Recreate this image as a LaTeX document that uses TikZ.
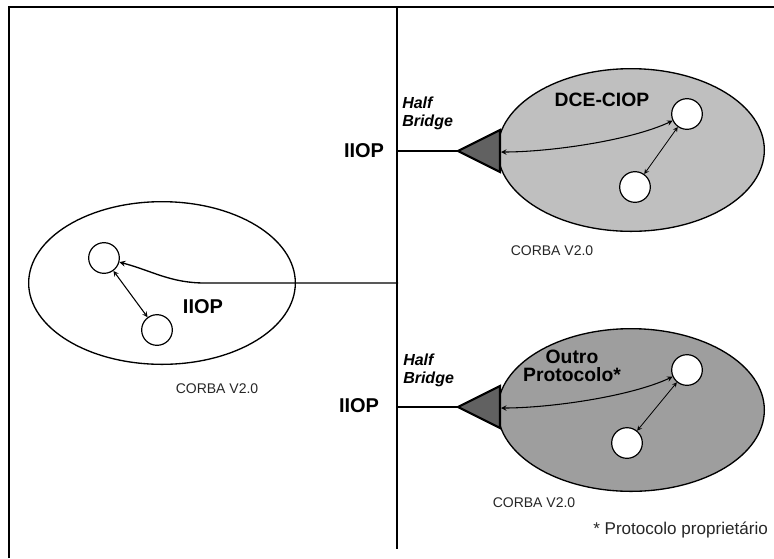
\documentclass[tikz,border=0pt]{standalone}
\usepackage{fontspec}
\setmainfont{Liberation Sans}
\usetikzlibrary{shapes.geometric}

\begin{document}
\begin{tikzpicture}[x=0.75pt, y=-0.75pt,
		obj/.style={draw, circle, fill=white, line width=0.9pt, minimum size=23pt, inner sep=0pt},
		orbdomain/.style={draw, ellipse, line width=1pt, minimum width=200pt, minimum height=122pt, inner sep=0pt},
		proto/.style={font=\fontsize{15}{15}\selectfont\bfseries, inner sep=0pt},
		bridge/.style={font=\fontsize{12}{13.5}\selectfont\bfseries\itshape, align=left, anchor=north west, inner sep=0pt},
		orb/.style={font=\fontsize{10.5}{12}\selectfont, text=black!85, inner sep=0pt},
		link/.style={<->, >=stealth, line width=0.8pt},
		half/.style={draw, fill=black!62, line width=1.6pt, line join=miter}]
				\useasboundingbox (0,0) rectangle (774,558);
				\draw[line width=1.6pt] (9,558) -- (9,7) -- (774,7);
				\coordinate (Top)at(397, 7);
				\coordinate (Bot)at(397, 549);
				\draw[line width=2pt] (Top) -- (Bot);
				\node[orbdomain, fill=black!25] (DCE)at(631, 150) {};
				\node[orbdomain, fill=black!38] (OUT)at(631, 410) {};
				\node[orbdomain, fill=white] (LOC)at(162, 283) {};
				\node[obj] (A1)at(687, 114) {};
				\node[obj] (A2)at(635, 187) {};
				\node[obj] (B1)at(687, 370) {};
				\node[obj] (B2)at(627, 443) {};
				\node[obj] (C1)at(104, 258) {};
				\node[obj] (C2)at(157, 330) {};
				\coordinate (HA)at(397, 151);
				\coordinate (TA)at(458, 151);
				\coordinate (BA)at(501, 152);
				\coordinate (HB)at(397, 407);
				\coordinate (TB)at(458, 407);
				\coordinate (BB)at(501, 408);
				\coordinate (HC)at(398, 283);
				\coordinate (KC)at(205, 283);
				\draw[line width=0.9pt] (HA) -- (TA);
				\draw[line width=0.9pt] (HB) -- (TB);
				\draw[half] (TA) -- (500, 130) -- (500, 172) -- cycle;
				\draw[half] (TB) -- (500, 386) -- (500, 428) -- cycle;
				\draw[link] (BA) to[out=0, in=205, looseness=0.7] (A1);
				\draw[link] (BB) to[out=0, in=205, looseness=0.7] (B1);
				\draw[link, line width=0.6pt] (A2) -- (A1);
				\draw[link, line width=0.6pt] (B2) -- (B1);
				\draw[link] (C2) -- (C1);
				\draw[->, >=stealth, line width=1pt] (HC) -- (KC) to[out=180, in=-15] (C1);
				\node[proto] (IA)at(364, 151) {IIOP};
				\node[proto] (IB)at(359, 406) {IIOP};
				\node[proto] (IC)at(203, 307) {IIOP};
				\node[bridge] (HBA)at(402, 97) {Half\\Bridge};
				\node[bridge] (HBB)at(403, 354) {Half\\Bridge};
				\node[proto, font=\fontsize{14.5}{15}\selectfont\bfseries] (PA)at(602, 100) {DCE-CIOP};
				\node[proto, font=\fontsize{14.5}{13.5}\selectfont\bfseries, align=center] (PB)at(572, 366) {Outro\\Protocolo*};
				\node[orb] (OA)at(552, 251) {CORBA V2.0};
				\node[orb] (OB)at(534, 503) {CORBA V2.0};
				\node[orb] (OC)at(217, 389) {CORBA V2.0};
				\node[orb, font=\fontsize{12.8}{14}\selectfont, anchor=west] (NOTE)at(593, 530) {* Protocolo proprietário};
			\end{tikzpicture}
\end{document}
